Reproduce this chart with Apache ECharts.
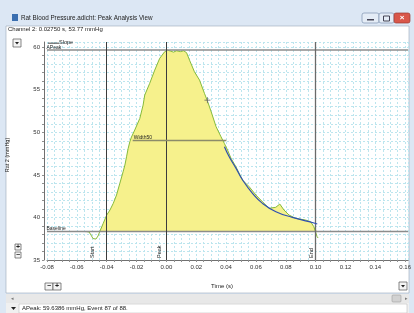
<!DOCTYPE html>
<html><head><meta charset="utf-8">
<script src="https://cdn.jsdelivr.net/npm/echarts@6/dist/echarts.min.js"></script>
<style>html,body{margin:0;padding:0;background:#fff}#c{width:414px;height:313px}</style>
</head><body><div id="c"></div>
<script>
// ---- data ----
const preT = [-0.0612, -0.0575, -0.0550, -0.0535];
const preV = [38.35, 38.35, 38.34, 38.33];
const waveT = [-0.0535,-0.0518,-0.0505,-0.0492,-0.0472,-0.0458,-0.0445,-0.0423,-0.0400,-0.0378,-0.0356,-0.0334,-0.0312,-0.0290,-0.0278,-0.0267,-0.0256,-0.0245,-0.0234,-0.0212,-0.0178,-0.0156,-0.0145,-0.0112,-0.0078,-0.0045,-0.0012,0.0008,0.0028,0.0048,0.0068,0.0095,0.0115,0.0135,0.0155,0.0188,0.0222,0.0255,0.0277,0.0300,0.0333,0.0366,0.0388,0.0410,0.0433,0.0466,0.0510,0.0555,0.0600,0.0644,0.0688,0.0733,0.0760,0.0788,0.0822,0.0866,0.0933,0.0966,0.0988,0.1010,0.1017];
const waveV = [38.33,38.29,37.93,37.52,37.46,37.82,38.40,39.31,40.28,40.87,41.65,42.63,44.00,45.36,46.15,47.12,48.11,48.88,49.44,50.26,51.63,53.19,54.37,55.74,57.30,58.67,59.45,59.64,59.53,59.41,59.57,59.47,59.57,59.35,58.47,57.10,56.13,54.57,53.58,52.41,50.65,49.47,48.70,47.91,46.94,45.95,44.39,43.60,42.63,41.84,41.07,41.19,41.57,40.87,40.28,39.89,39.69,39.50,38.91,37.73,37.58];
const fitT = [0.0389,0.0421,0.0467,0.0511,0.0577,0.0644,0.0734,0.0844,0.0956,0.1011];
const fitV = [48.30,47.12,45.76,44.39,42.83,41.65,40.67,40.01,39.50,39.23];
const baselineV = 38.40;
const aPeakV = 59.6386;
const width50T = [-0.0226, 0.0402];
const startT = -0.0445, peakT = 0.0003, endT = 0.1018;
const cursorT = 0.02750, cursorV = 53.77;
const eventNo = 87, eventCount = 88;
const xTicks = [-0.08,-0.06,-0.04,-0.02,0.00,0.02,0.04,0.06,0.08,0.10,0.12,0.14,0.16];
const yTicks = [35,40,45,50,55,60];

const F = 'Liberation Sans, Arial, sans-serif';
const width50V = (aPeakV + baselineV) / 2;
const zip = (a, b) => a.map((v, i) => [v, b[i]]);
const fillData = waveT.map((t, i) => [t, waveV[i]]).filter(p => p[0] >= startT && p[0] <= endT).map(p => [p[0], Math.max(p[1], baselineV)]);

const chart = echarts.init(document.getElementById('c'), null, {renderer: 'canvas'});
const xSet = new Set(xTicks.map(v => Math.round(v * 1000)));
const ySet = new Set(yTicks);
const gridSplit = {show: true, lineStyle: {color: '#bce5ee', type: [2, 2], width: 1}};

const option = {
  animation: false,
  backgroundColor: '#dce7f4',
  grid: {left: 47, right: 4.5, top: 42, bottom: 53},
  xAxis: {
    type: 'value', min: -0.08, max: 0.162, interval: 0.005,
    axisLine: {lineStyle: {color: '#707070', width: 1}, onZero: false},
    axisTick: {show: true, length: 2, interval: 0, lineStyle: {color: '#909090'}},
    axisLabel: {interval: 0, fontSize: 6, fontFamily: F, color: '#333', margin: 4, showMaxLabel: false,
      formatter: v => xSet.has(Math.round(v * 1000)) ? v.toFixed(2) : ''},
    splitLine: gridSplit
  },
  yAxis: {
    type: 'value', min: 35, max: 60.6, interval: 1, offset: 3,
    axisLine: {show: true, lineStyle: {color: '#707070', width: 1}, onZero: false},
    axisTick: {show: true, length: 2, interval: 0, lineStyle: {color: '#909090'}},
    axisLabel: {interval: 0, fontSize: 6, fontFamily: F, color: '#333', margin: 4, showMaxLabel: false,
      formatter: v => ySet.has(Math.round(v * 100) / 100) ? String(v) : ''},
    splitLine: gridSplit
  },
  series: [
    {type: 'line', data: fillData, symbol: 'none', lineStyle: {width: 0}, silent: true,
     areaStyle: {color: '#f6f18c', opacity: 1, origin: baselineV}, z: 2},
    {type: 'line', data: zip(preT, preV), symbol: 'none', lineStyle: {color: '#7c86c8', width: 1}, z: 3},
    {type: 'line', data: zip(waveT, waveV), symbol: 'none', lineStyle: {color: '#86bb3a', width: 1}, z: 4,
     markLine: {
       silent: true, symbol: 'none', label: {show: false},
       data: [
         {yAxis: aPeakV, lineStyle: {color: '#8c8c8c', width: 1.6, type: 'solid'}},
         {yAxis: baselineV, lineStyle: {color: '#8c8c8c', width: 1.3, type: 'solid'}},
         {xAxis: startT, lineStyle: {color: '#3c3c3c', width: 1, type: 'solid'}},
         {xAxis: peakT, lineStyle: {color: '#3c3c3c', width: 1, type: 'solid'}},
         {xAxis: endT, lineStyle: {color: '#6a6a6a', width: 1.3, type: 'solid'}},
         [{coord: [width50T[0], width50V], lineStyle: {color: '#8c8c6a', width: 1.3, type: 'solid'}}, {coord: [width50T[1], width50V]}]
       ]
     }},
    {type: 'line', data: zip(fitT, fitV), symbol: 'none', smooth: true, lineStyle: {color: '#2f4fb0', width: 1.2}, z: 5}
  ]
};
chart.setOption(option);

// overlay: labels positioned through the chart's scales, plus window chrome
const P = (t, v) => chart.convertToPixel({gridIndex: 0}, [t, v]);
const txt = (x, y, s, o = {}) => Object.assign({type: 'text', x, y, silent: true, z: 60,
  style: Object.assign({text: s, fontSize: 6, fontFamily: F, fill: '#222', textVerticalAlign: 'middle'}, o.style || {})}, o.extra || {});

const pStart = P(startT, 35), pPeak = P(peakT, 35), pEnd = P(endT, 35);
const pBase = P(-0.08, baselineV), pAp = P(-0.08, aPeakV), pW = P(width50T[0], width50V);
const pCur = P(cursorT, cursorV);
const rot = (p, s) => ({type: 'text', x: p[0] - 4, y: p[1] - 2, rotation: Math.PI / 2, silent: true, z: 60,
  style: {text: s, fontSize: 5.5, fontFamily: F, fill: '#222', textAlign: 'left', textVerticalAlign: 'bottom'}});

const g = [
  // client white area
  {type: 'rect', shape: {x: 6, y: 26, width: 403, height: 267}, style: {fill: '#fff', stroke: '#9aa8b8', lineWidth: 0.6}, z: -1, silent: true},
  // title bar
  {type: 'rect', shape: {x: 12, y: 14, width: 6, height: 7}, style: {fill: '#3a6fb0'}, z: 50},
  txt(21, 18, 'Rat Blood Pressure.adicht: Peak Analysis View', {style: {fontSize: 6.3}}),
  {type: 'rect', shape: {x: 362, y: 13, width: 17, height: 10, r: 2}, style: {fill: '#e4ecf6', stroke: '#8094b0', lineWidth: 0.7}, z: 50},
  {type: 'rect', shape: {x: 367, y: 19, width: 7, height: 1.5}, style: {fill: '#445'}, z: 51},
  {type: 'rect', shape: {x: 379, y: 13, width: 15, height: 10, r: 2}, style: {fill: '#e4ecf6', stroke: '#8094b0', lineWidth: 0.7}, z: 50},
  {type: 'rect', shape: {x: 383.5, y: 16, width: 6, height: 5}, style: {fill: 'none', stroke: '#445', lineWidth: 1}, z: 51},
  {type: 'rect', shape: {x: 394, y: 13, width: 16, height: 10, r: 2}, style: {fill: '#d9574a', stroke: '#9c3b32', lineWidth: 0.7}, z: 50},
  txt(402, 18, '×', {style: {fill: '#fff', fontSize: 8, textAlign: 'center', fontWeight: 'bold'}}),
  // channel readout
  txt(8, 29.5, 'Channel 2: ' + cursorT.toFixed(5) + ' s, ' + cursorV.toFixed(2) + ' mmHg', {style: {fontSize: 6}}),
  // top-left dropdown
  {type: 'rect', shape: {x: 13, y: 39, width: 8, height: 8}, style: {fill: '#f4f4f4', stroke: '#555', lineWidth: 0.7}, z: 50},
  {type: 'polygon', shape: {points: [[15, 42], [19, 42], [17, 44.5]]}, style: {fill: '#222'}, z: 51},
  // y axis name
  {type: 'text', x: 7, y: 155, rotation: Math.PI / 2, silent: true, z: 60,
   style: {text: 'Rat 2 (mmHg)', fontSize: 5.5, fontFamily: F, fill: '#222', textAlign: 'center', textVerticalAlign: 'middle'}},
  // +/- vertical zoom
  {type: 'rect', shape: {x: 15, y: 244, width: 6, height: 6}, style: {fill: '#f4f4f4', stroke: '#555', lineWidth: 0.7}, z: 50},
  txt(18, 247, '+', {style: {fontSize: 7, textAlign: 'center', fontWeight: 'bold'}}),
  {type: 'rect', shape: {x: 15, y: 252, width: 6, height: 6}, style: {fill: '#f4f4f4', stroke: '#555', lineWidth: 0.7}, z: 50},
  txt(18, 255, '−', {style: {fontSize: 7, textAlign: 'center', fontWeight: 'bold'}}),
  // -/+ horizontal zoom
  {type: 'rect', shape: {x: 45, y: 283, width: 8, height: 7}, style: {fill: '#f4f4f4', stroke: '#555', lineWidth: 0.7}, z: 50},
  txt(49, 286.5, '−', {style: {fontSize: 7, textAlign: 'center', fontWeight: 'bold'}}),
  {type: 'rect', shape: {x: 53, y: 283, width: 8, height: 7}, style: {fill: '#f4f4f4', stroke: '#555', lineWidth: 0.7}, z: 50},
  txt(57, 286.5, '+', {style: {fontSize: 7, textAlign: 'center', fontWeight: 'bold'}}),
  txt(222, 286, 'Time (s)', {style: {fontSize: 6, textAlign: 'center'}}),
  // bottom-right dropdown
  {type: 'rect', shape: {x: 399, y: 282, width: 8, height: 8}, style: {fill: '#f4f4f4', stroke: '#555', lineWidth: 0.7}, z: 50},
  {type: 'polygon', shape: {points: [[401, 285], [405, 285], [403, 287.5]]}, style: {fill: '#222'}, z: 51},
  // scrollbar
  {type: 'rect', shape: {x: 6, y: 294, width: 403, height: 9}, style: {fill: '#e8e8e8'}, z: 50},
  {type: 'rect', shape: {x: 392, y: 295, width: 9, height: 7, r: 1}, style: {fill: '#d2d2d2', stroke: '#a0a0a0', lineWidth: 0.6}, z: 51},
  txt(12, 298.5, '◂', {style: {fontSize: 5, fill: '#777', textAlign: 'center'}}),
  txt(406, 298.5, '▸', {style: {fontSize: 5, fill: '#777', textAlign: 'center'}}),
  // status bar
  {type: 'rect', shape: {x: 6, y: 303, width: 403, height: 10}, style: {fill: '#f0f0f0'}, z: 50},
  {type: 'polygon', shape: {points: [[11, 307], [16, 307], [13.5, 310]]}, style: {fill: '#222'}, z: 51},
  {type: 'rect', shape: {x: 19, y: 304, width: 388, height: 9}, style: {fill: '#fff', stroke: '#c0c0c0', lineWidth: 0.6}, z: 51},
  txt(22, 308.5, 'APeak: ' + aPeakV.toFixed(4) + ' mmHg, Event ' + eventNo + ' of ' + eventCount + '.', {style: {fontSize: 6}}),
  // in-plot annotations
  {type: 'line', shape: {x1: pAp[0] + 1, y1: pAp[1] - 7, x2: pAp[0] + 12, y2: pAp[1] - 7}, style: {stroke: '#444', lineWidth: 1}, z: 50},
  txt(pAp[0] + 12, pAp[1] - 7.5, 'Slope', {style: {fontSize: 5.5}}),
  txt(pAp[0] - 0.5, pAp[1] - 2.5, 'APeak', {style: {fontSize: 5}}),
  txt(pBase[0] - 0.5, pBase[1] - 2.5, 'Baseline', {style: {fontSize: 5}}),
  txt(pW[0] + 1, pW[1] - 3, 'Width50', {style: {fontSize: 5}}),
  rot(pStart, 'Start'), rot(pPeak, 'Peak'), rot(pEnd, 'End'),
  {type: 'line', shape: {x1: pCur[0] - 3, y1: pCur[1], x2: pCur[0] + 3, y2: pCur[1]}, style: {stroke: '#666', lineWidth: 0.8}, z: 50},
  {type: 'line', shape: {x1: pCur[0], y1: pCur[1] - 3, x2: pCur[0], y2: pCur[1] + 3}, style: {stroke: '#666', lineWidth: 0.8}, z: 50}
];
chart.setOption({graphic: {elements: g}});
</script>
</body></html>
